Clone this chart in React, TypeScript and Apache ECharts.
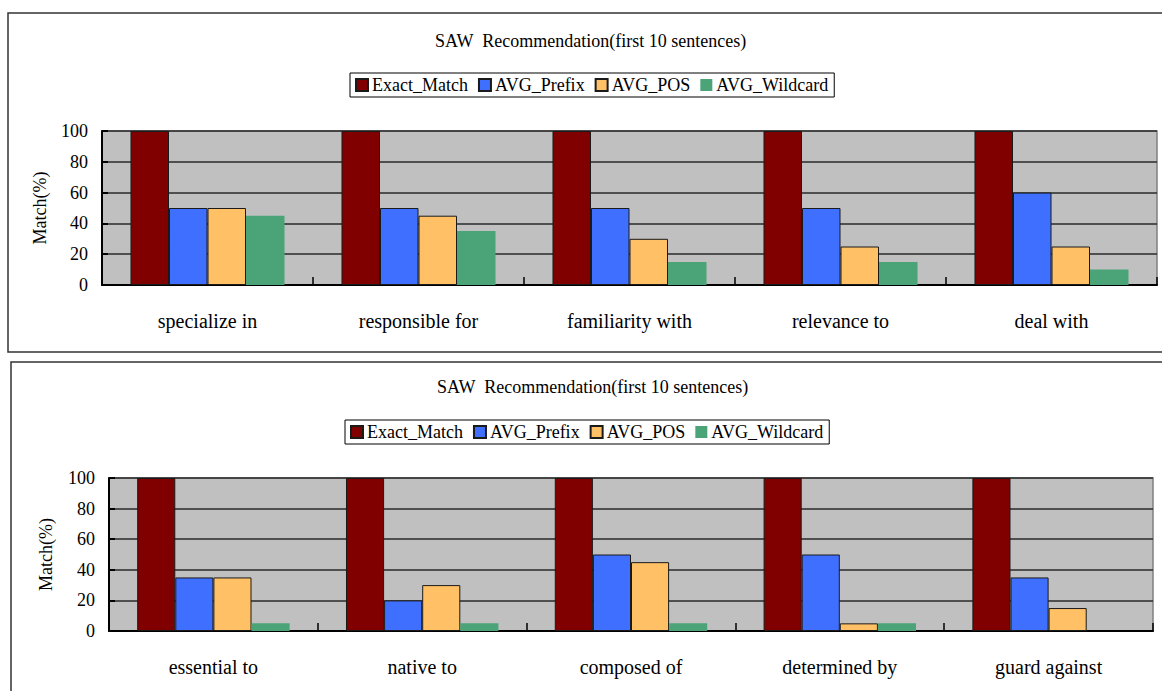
import React, { useEffect, useRef } from "react";
import * as echarts from "echarts";

const seriesNames = ["Exact_Match", "AVG_Prefix", "AVG_POS", "AVG_Wildcard"];
const colors = ["#800000", "#3f6fff", "#ffc066", "#4aa478"];

const titleText = "SAW  Recommendation(first 10 sentences)";
const yAxisName = "Match(%)";

const topCategories = ["specialize in", "responsible for", "familiarity with", "relevance to", "deal with"];
const topExact = [100, 100, 100, 100, 100];
const topPrefix = [50, 50, 50, 50, 60];
const topPOS = [50, 45, 30, 25, 25];
const topWildcard = [45, 35, 15, 15, 10];

const bottomCategories = ["essential to", "native to", "composed of", "determined by", "guard against"];
const bottomExact = [100, 100, 100, 100, 100];
const bottomPrefix = [35, 20, 50, 50, 35];
const bottomPOS = [35, 30, 45, 5, 15];
const bottomWildcard = [5, 5, 5, 5, 0];

const yTicks = [0, 20, 40, 60, 80, 100];

const FONT = "Liberation Serif";

export default function App() {
  const ref = useRef<HTMLDivElement>(null);

  useEffect(() => {
    if (!ref.current) return;
    const chart = echarts.init(ref.current, undefined, { renderer: "svg" });

    const topData = [topExact, topPrefix, topPOS, topWildcard];
    const bottomData = [bottomExact, bottomPrefix, bottomPOS, bottomWildcard];

    const makeSeries = (data: number[][], idx: number) =>
      data.map((values, i) => ({
        name: seriesNames[i],
        type: "bar",
        xAxisIndex: idx,
        yAxisIndex: idx,
        data: values,
        barGap: "0%",
        barCategoryGap: "27%",
        itemStyle: {
          color: colors[i],
          borderColor: i === 3 ? colors[i] : "#1a1a1a",
          borderWidth: i === 3 ? 0 : 1,
        },
      }));

    const labelStyle = (size: number, margin: number) => ({
      color: "#000",
      fontSize: size,
      fontFamily: FONT,
      margin,
      formatter: (v: string | number) => "{s|" + v + "}",
      rich: {
        s: { fontFamily: FONT, fontSize: size, color: "#000" },
      },
    });

    const makeXAxis = (cats: string[], idx: number) => ({
      type: "category",
      gridIndex: idx,
      data: cats,
      axisLine: { show: true, lineStyle: { color: "#000", width: 2 } },
      axisTick: { show: true, inside: true, length: 8, alignWithLabel: false, lineStyle: { color: "#000", width: 1.5 } },
      axisLabel: labelStyle(20, 26),
      splitLine: { show: false },
    });

    const makeYAxis = (idx: number, gap: number) => ({
      type: "value",
      gridIndex: idx,
      min: yTicks[0],
      max: yTicks[yTicks.length - 1],
      interval: yTicks[1] - yTicks[0],
      name: yAxisName,
      nameLocation: "middle",
      nameGap: gap,
      nameRotate: 90,
      nameTextStyle: { color: "#000", fontSize: 18, fontFamily: FONT },
      axisLine: { show: true, lineStyle: { color: "#000", width: 2 } },
      axisTick: { show: true, inside: true, length: 6, lineStyle: { color: "#000", width: 2 } },
      axisLabel: labelStyle(18, 14),
      splitLine: { show: true, lineStyle: { color: "#2a2a2a", width: 1.5 } },
    });

    const legendBase = {
      data: seriesNames,
      orient: "horizontal",
      icon: "rect",
      itemWidth: 12,
      itemHeight: 12,
      itemGap: 10,
      padding: [3, 6, 3, 5],
      borderColor: "#000",
      borderWidth: 1,
      borderRadius: 0,
      backgroundColor: "#fff",
      selectedMode: false,
      textStyle: { color: "#000", fontSize: 18, fontFamily: FONT, padding: [0, 0, 0, -1] },
    };

    chart.setOption({
      animation: false,
      backgroundColor: "#fff",
      textStyle: { fontFamily: FONT },
      title: [
        {
          text: titleText,
          left: 435,
          top: 32,
          padding: 0,
          textStyle: { color: "#000", fontSize: 18, fontWeight: "normal", fontFamily: FONT },
        },
        {
          text: titleText,
          left: 437,
          top: 378,
          padding: 0,
          textStyle: { color: "#000", fontSize: 18, fontWeight: "normal", fontFamily: FONT },
        },
      ],
      legend: [
        { ...legendBase, left: 350, top: 73 },
        { ...legendBase, left: 345, top: 420 },
      ],
      grid: [
        {
          left: 102, top: 131, width: 1055, height: 154,
          show: true, backgroundColor: "#c0c0c0", borderColor: "#808080", borderWidth: 1.5,
        },
        {
          left: 109, top: 478, width: 1044, height: 153,
          show: true, backgroundColor: "#c0c0c0", borderColor: "#808080", borderWidth: 1.5,
        },
      ],
      xAxis: [makeXAxis(topCategories, 0), makeXAxis(bottomCategories, 1)],
      yAxis: [makeYAxis(0, 53), makeYAxis(1, 54)],
      series: [...makeSeries(topData, 0), ...makeSeries(bottomData, 1)],
      graphic: [
        {
          type: "rect",
          silent: true,
          z: -1,
          shape: { x: 8, y: 13, width: 1170, height: 339 },
          style: { fill: "none", stroke: "#333", lineWidth: 1.5 },
        },
        {
          type: "rect",
          silent: true,
          z: -1,
          shape: { x: 11, y: 362, width: 1170, height: 340 },
          style: { fill: "none", stroke: "#333", lineWidth: 1.5 },
        },
      ],
    });

    return () => chart.dispose();
  }, []);

  return (
    <div
      ref={ref}
      style={{ position: "fixed", left: 0, top: 0, width: 1162, height: 691 }}
    />
  );
}
